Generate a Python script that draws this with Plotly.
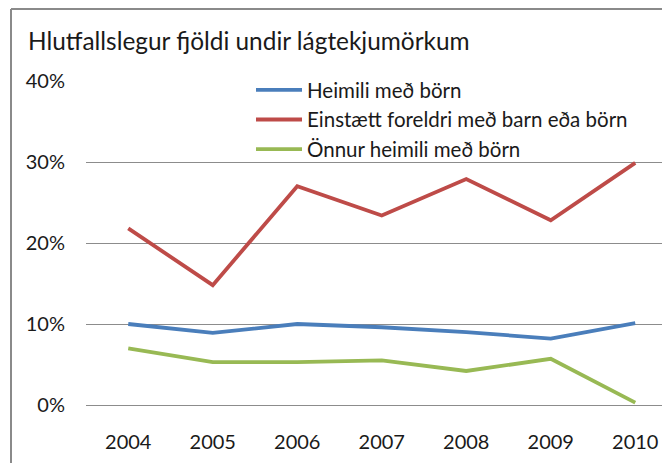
import plotly.graph_objects as go

years = ["2004", "2005", "2006", "2007", "2008", "2009", "2010"]
heimili = [10.0, 8.9, 10.0, 9.6, 9.0, 8.2, 10.1]
einstaett = [21.8, 14.8, 27.0, 23.4, 27.9, 22.8, 29.9]
onnur = [7.0, 5.3, 5.3, 5.5, 4.2, 5.7, 0.3]

names = ["Heimili með börn", "Einstætt foreldri með barn eða börn", "Önnur heimili með börn"]
colors = ["#4A7EBB", "#BE4B48", "#98B954"]
series = [heimili, einstaett, onnur]

FONT = "Lato"
OFF = 8  # page body margin

fig = go.Figure()
xs = list(range(len(years)))
for n, c, s in zip(names, colors, series):
    fig.add_trace(go.Scatter(x=xs, y=s, mode="lines", name=n,
                             line=dict(color=c, width=3.8)))

W, H = 670, 463
L = 86 - OFF
T = 81 - OFF
B = 405 - OFF
plot_w = W - L
plot_h = B - T

def px_x(p):
    return (p - OFF - L) / plot_w

def px_y(p):
    return (B - (p - OFF)) / plot_h

fig.update_layout(
    width=W, height=H,
    margin=dict(l=L, r=0, t=T, b=H - B, pad=0),
    paper_bgcolor="white", plot_bgcolor="white",
    font=dict(family=FONT, color="#1a1a1a", size=20),
    title=dict(text="Hlutfallslegur fjöldi undir lágtekjumörkum",
               x=(28 - OFF) / W, xanchor="left", y=1 - (41 - OFF) / H, yanchor="middle",
               font=dict(family=FONT, size=24.4, color="#1a1a1a")),
    showlegend=True,
    legend=dict(x=px_x(251), xanchor="left", y=px_y(70), yanchor="top",
                font=dict(family=FONT, size=20.5, color="#1a1a1a"),
                bgcolor="rgba(0,0,0,0)", itemwidth=46, tracegroupgap=0),
    xaxis=dict(range=[-0.5, -0.5 + plot_w / 84.5], tickmode="array",
               tickvals=xs, ticktext=years, showgrid=False, zeroline=False,
               showline=False, ticks="", ticklabelstandoff=23,
               tickfont=dict(family=FONT, size=20, color="#1a1a1a")),
    yaxis=dict(range=[0, 40], tickvals=[0, 10, 20, 30, 40],
               ticktext=["0%", "10%", "20%", "30%", "40%"],
               showgrid=True, gridcolor="#8c8c8c", gridwidth=1,
               zeroline=True, zerolinecolor="#8c8c8c", zerolinewidth=1,
               showline=False, ticks="", ticklabelstandoff=20,
               tickfont=dict(family=FONT, size=20, color="#1a1a1a")),
)

# outer chart frame (top and left edges visible)
fig.add_shape(type="line", xref="paper", yref="paper",
              x0=px_x(11), x1=px_x(720), y0=px_y(9), y1=px_y(9),
              line=dict(color="#8a8a8a", width=2))
fig.add_shape(type="line", xref="paper", yref="paper",
              x0=px_x(11), x1=px_x(11), y0=px_y(9), y1=px_y(500),
              line=dict(color="#8a8a8a", width=2))

fig.write_html("out.html")
